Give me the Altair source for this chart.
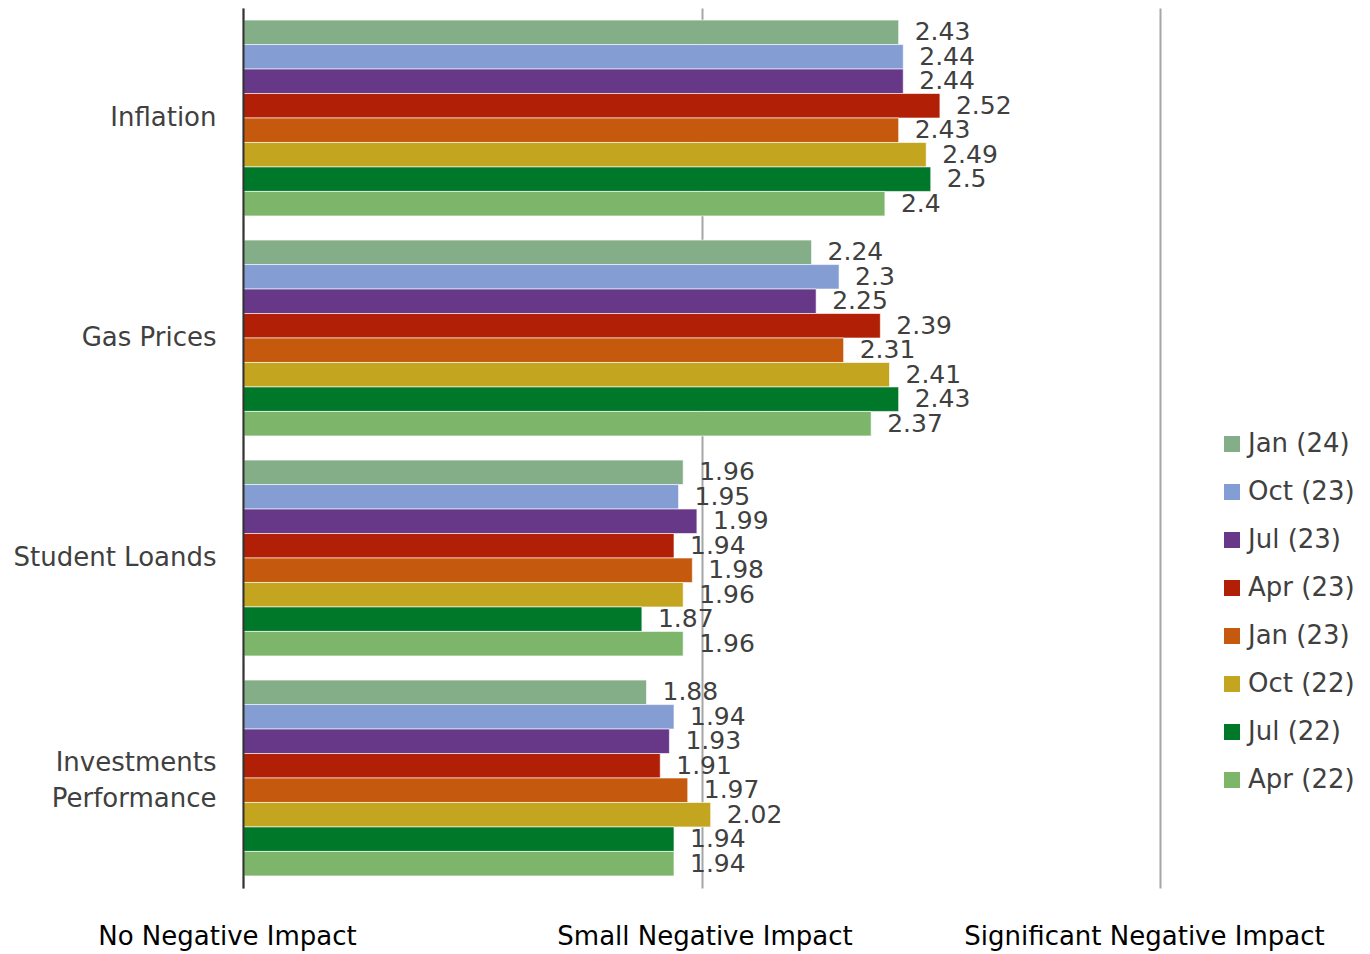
import altair as alt
import pandas as pd

categories = ["Inflation", "Gas Prices", "Student Loands", "Investments Performance"]
series = ["Jan (24)", "Oct (23)", "Jul (23)", "Apr (23)", "Jan (23)", "Oct (22)", "Jul (22)", "Apr (22)"]
colors = ["#84AE88", "#849DD3", "#673888", "#B11F06", "#C55A0F", "#C4A520", "#00782A", "#7DB66B"]

jan24 = [2.43, 2.24, 1.96, 1.88]
oct23 = [2.44, 2.3, 1.95, 1.94]
jul23 = [2.44, 2.25, 1.99, 1.93]
apr23 = [2.52, 2.39, 1.94, 1.91]
jan23 = [2.43, 2.31, 1.98, 1.97]
oct22 = [2.49, 2.41, 1.96, 2.02]
jul22 = [2.5, 2.43, 1.87, 1.94]
apr22 = [2.4, 2.37, 1.96, 1.94]

tick_values = [1, 2, 3]
tick_labels = ["No Negative Impact", "Small Negative Impact", "Significant Negative Impact"]

all_vals = [jan24, oct23, jul23, apr23, jan23, oct22, jul22, apr22]
rows = []
for s, vals in zip(series, all_vals):
    for c, v in zip(categories, vals):
        rows.append({"category": c, "series": s, "value": v, "label": str(v)})
df = pd.DataFrame(rows)

label_expr = " : ".join(
    f"datum.value == {v} ? '{t}'" for v, t in zip(tick_values, tick_labels)
) + " : ''"

y_enc = alt.Y(
    "category:N",
    sort=categories,
    scale=alt.Scale(paddingInner=0.11, paddingOuter=0.055),
    axis=alt.Axis(
        title=None,
        ticks=False,
        domain=True,
        domainColor="#333333",
        domainWidth=2,
        zindex=1,
        labelFont="DejaVu Sans",
        labelFontSize=26,
        labelColor="#404040",
        labelPadding=27,
        labelLimit=400,
        labelLineHeight=36,
        labelOffset=alt.condition("datum.value == 'Investments Performance'", alt.value(-15), alt.value(0)),
        labelExpr="datum.value == 'Investments Performance' ? ['Investments', 'Performance'] : datum.value",
    ),
)
yoff = alt.YOffset("series:N", sort=series)

x_enc = alt.X(
    "value:Q",
    scale=alt.Scale(domain=[1, 3], zero=False, nice=False),
    axis=alt.Axis(
        title=None,
        values=tick_values,
        labelExpr=label_expr,
        grid=True,
        gridColor="#A6A6A6",
        gridWidth=2,
        domain=False,
        ticks=False,
        labelFont="DejaVu Sans",
        labelFontSize=26,
        labelColor="#000000",
        labelPadding=35,
        labelLimit=500,
        labelFlush=False,
        labelOverlap=False,
        labelAlign="center",
        labelOffset=alt.condition("datum.value != 2", alt.value(-16), alt.value(3)),
    ),
)

bars = alt.Chart(df).mark_bar(stroke="white", strokeWidth=1, strokeOpacity=0.6).encode(
    y=y_enc,
    yOffset=yoff,
    x=x_enc,
    x2=alt.datum(1),
    color=alt.Color(
        "series:N",
        sort=series,
        scale=alt.Scale(domain=series, range=colors),
        legend=alt.Legend(
            title=None,
            orient="none",
            legendX=976,
            legendY=423,
            symbolType="square",
            symbolSize=256,
            symbolStrokeWidth=0,
            labelFont="DejaVu Sans",
            labelFontSize=26,
            labelColor="#404040",
            labelOffset=3,
            rowPadding=22,
        ),
    ),
)

texts = alt.Chart(df).mark_text(
    align="left", baseline="middle", dx=16, font="DejaVu Sans", fontSize=25, color="#404040"
).encode(
    y=alt.Y("category:N", sort=categories),
    yOffset=yoff,
    x=alt.X("value:Q"),
    text="label:N",
)

chart = alt.layer(bars, texts).properties(
    width=917,
    height=880,
    padding={"left": 4, "top": 0, "right": 5, "bottom": 5},
).configure_view(stroke=None).configure_axis(gridDash=[])

chart.save("out.html", embed_options={"renderer": "svg", "actions": False})
